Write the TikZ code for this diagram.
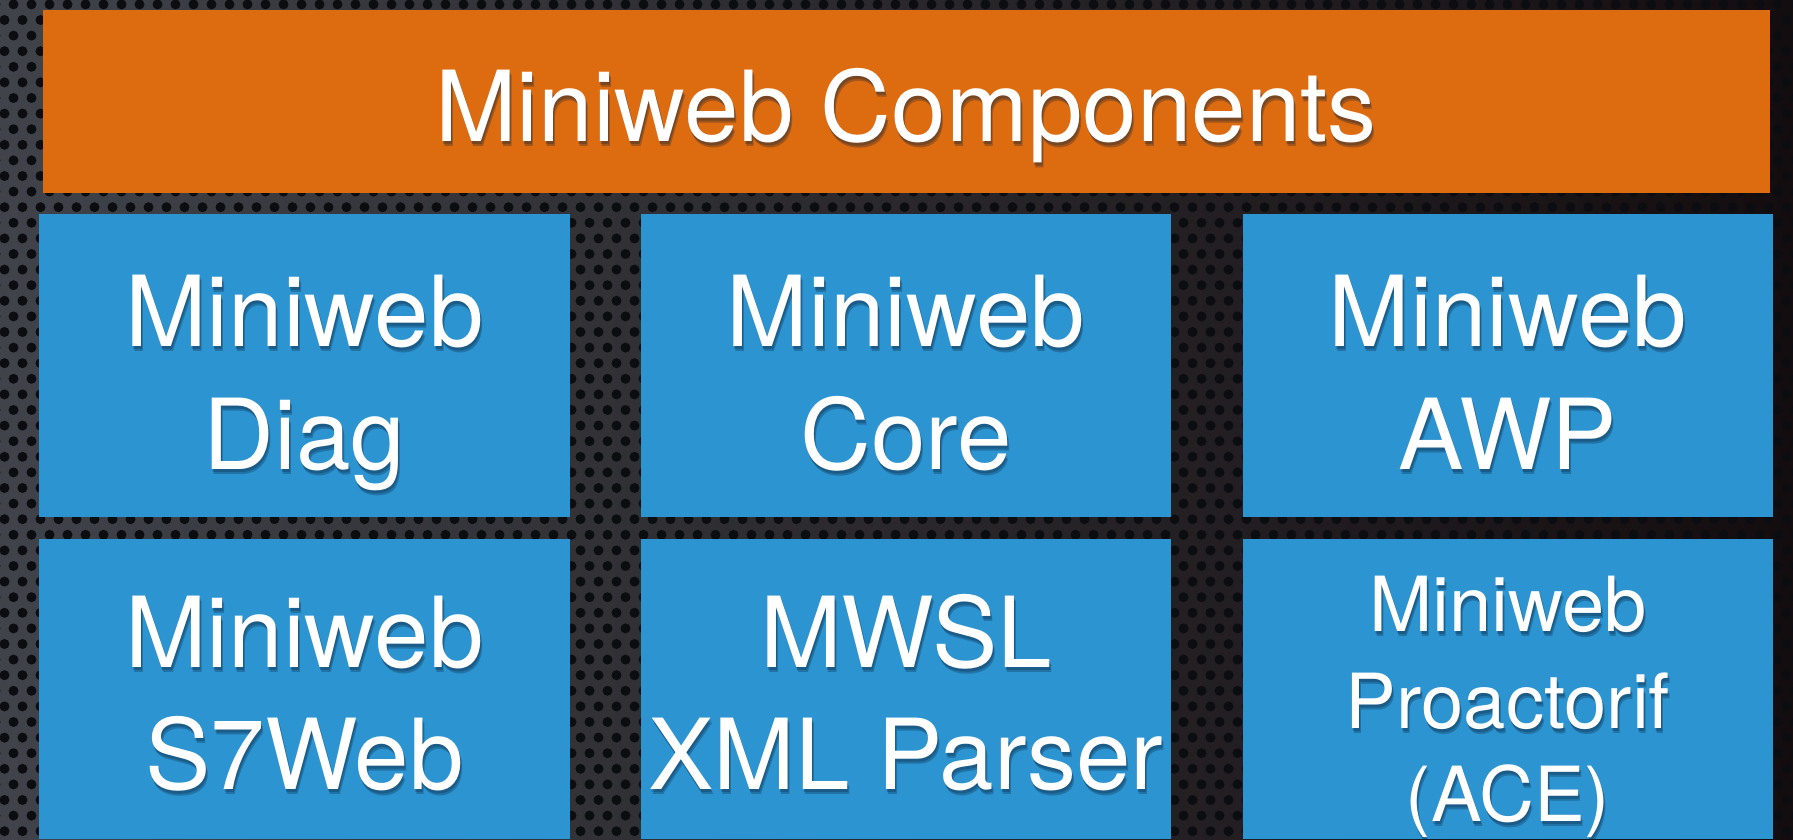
\documentclass[tikz,border=0pt]{standalone}
\usepackage{fontspec}
\setmainfont{TeX Gyre Heros}
\usetikzlibrary{patterns}
\definecolor{mworange}{RGB}{221,107,16}
\definecolor{mwblue}{RGB}{43,148,209}
\definecolor{bgleft}{RGB}{64,67,74}
\definecolor{bgright}{RGB}{20,13,15}
\definecolor{holecol}{RGB}{12,13,17}
\definecolor{mwshadow}{RGB}{8,30,55}
\pgfdeclarepatternformonly{mwholes}{\pgfqpoint{-1pt}{-1pt}}{\pgfqpoint{19pt}{32.2pt}}{\pgfqpoint{18pt}{31.2pt}}{%
  \pgfpathcircle{\pgfqpoint{4.5pt}{7.8pt}}{5pt}%
  \pgfpathcircle{\pgfqpoint{13.5pt}{23.4pt}}{5pt}%
  \pgfusepath{fill}}
\tikzset{
  tile/.style={fill=mwblue, draw=none, inner sep=0pt, outer sep=0pt, anchor=north west, minimum height=303pt},
  titlebox/.style={fill=mworange, draw=none, inner sep=0pt, outer sep=0pt, anchor=north west},
  txt/.style={text=white, inner sep=0pt, anchor=base, font=\fontsize{98}{120}\selectfont},
  txtsmall/.style={text=white, inner sep=0pt, anchor=base, font=\fontsize{76}{95}\selectfont},
  shad/.style={text=mwshadow, text opacity=0.28}
}
\newcommand\mwlabel[5]{% name, style, x, y, text
  \node[#2, shad] (#1s1) at (#3+1,#4+3) {#5};
  \node[#2, shad] (#1s2) at (#3+2,#4+5) {#5};
  \node[#2] (#1) at (#3,#4) {#5};}
\begin{document}
\begin{tikzpicture}[x=1pt,y=-1pt]
\useasboundingbox (0,0) rectangle (1793,839);
% background
\shade[left color=bgleft, right color=bgright] (0,0) rectangle (1793,839);
\fill[pattern=mwholes, pattern color=holecol] (0,0) rectangle (1793,839);
% title bar
\node[titlebox, minimum width=1727pt, minimum height=183pt] (title) at (43,10) {};
% tiles
\node[tile, minimum width=531pt] (diag) at (39,214) {};
\node[tile, minimum width=530pt] (core) at (641,214) {};
\node[tile, minimum width=530pt] (awp)  at (1243,214) {};
\node[tile, minimum width=531pt, minimum height=300pt] (s7)   at (39,539) {};
\node[tile, minimum width=530pt, minimum height=300pt] (mwsl) at (641,539) {};
\node[tile, minimum width=530pt, minimum height=300pt] (ace)  at (1243,539) {};
% texts
\mwlabel{ttl}{txt}{906}{141}{Miniweb Components}
\mwlabel{diaga}{txt}{304.5}{346}{Miniweb}
\mwlabel{diagb}{txt}{304.5}{469}{Diag}
\mwlabel{corea}{txt}{906}{346}{Miniweb}
\mwlabel{coreb}{txt}{906}{469}{Core}
\mwlabel{awpa}{txt}{1508}{346}{Miniweb}
\mwlabel{awpb}{txt}{1508}{469}{AWP}
\mwlabel{s7a}{txt}{304.5}{667}{Miniweb}
\mwlabel{s7b}{txt}{304.5}{789}{S7Web}
\mwlabel{mwsla}{txt}{906}{667}{MWSL}
\mwlabel{mwslb}{txt}{906}{789}{XML Parser}
\mwlabel{acea}{txtsmall}{1508}{631}{Miniweb}
\mwlabel{aceb}{txtsmall}{1508}{728}{Proactorif}
\mwlabel{acec}{txtsmall}{1508}{821}{(ACE)}
\end{tikzpicture}
\end{document}
